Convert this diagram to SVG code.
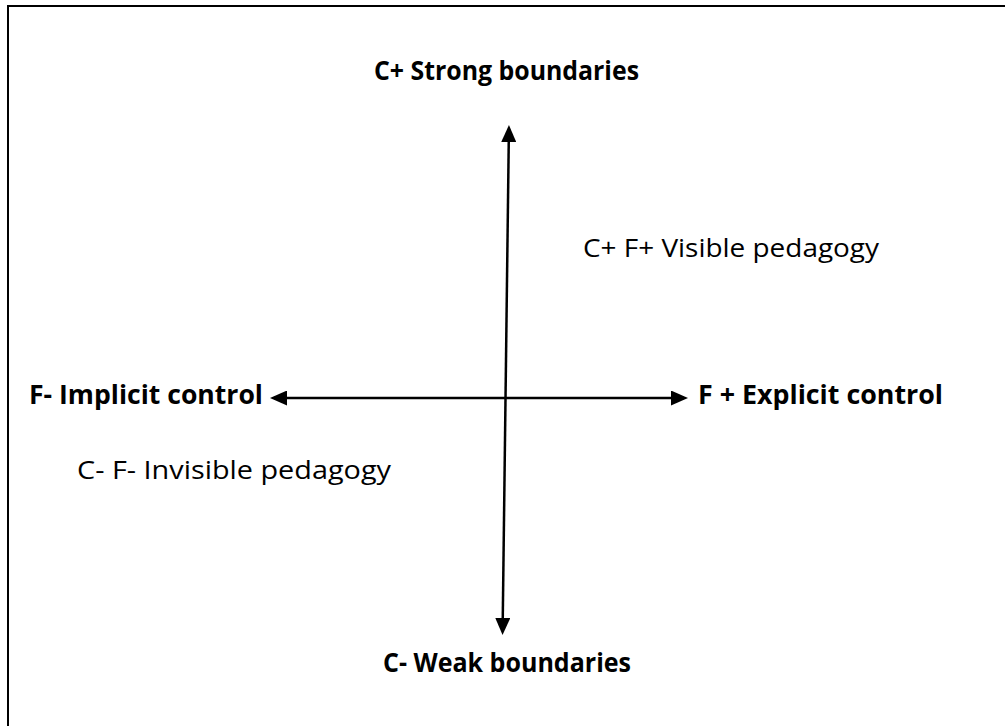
<svg xmlns="http://www.w3.org/2000/svg" width="1005" height="726" viewBox="0 0 1005 726">
  <style>
    .lbl-b { font-family: "Open Sans", "Liberation Sans", sans-serif; font-weight: bold; font-size: 27px; fill: #000; }
    .lbl { font-family: "Open Sans", "Liberation Sans", sans-serif; font-size: 25px; fill: #000; }
    .axis { stroke: #000; stroke-width: 2.5; fill: none; }
  </style>
  <defs>
    <marker id="head" markerUnits="userSpaceOnUse" markerWidth="18" markerHeight="15" refX="13" refY="7.5" orient="auto-start-reverse">
      <path d="M0,0 L17,7.5 L0,15 z" fill="#000"/>
    </marker>
  </defs>

  <rect width="1005" height="726" fill="#fff"/>
  <!-- frame -->
  <rect x="8" y="6" width="1010" height="740" fill="none" stroke="#000" stroke-width="2"/>

  <!-- axes -->
  <g id="connectors">
    <line class="axis" x1="508.9" y1="129" x2="502.6" y2="631" marker-start="url(#head)" marker-end="url(#head)"/>
    <line class="axis" x1="274" y1="398" x2="684" y2="398" marker-start="url(#head)" marker-end="url(#head)"/>
  </g>

  <g id="top-label">
    <text class="lbl-b" x="374" y="80" textLength="265" lengthAdjust="spacingAndGlyphs">C+ Strong boundaries</text>
  </g>
  <g id="bottom-label">
    <text class="lbl-b" x="383" y="672" textLength="248" lengthAdjust="spacingAndGlyphs">C- Weak boundaries</text>
  </g>
  <g id="left-label">
    <text class="lbl-b" x="29" y="404" textLength="234" lengthAdjust="spacingAndGlyphs">F- Implicit control</text>
  </g>
  <g id="right-label">
    <text class="lbl-b" x="698" y="404" textLength="245" lengthAdjust="spacingAndGlyphs">F + Explicit control</text>
  </g>
  <g id="visible-quadrant">
    <text class="lbl" x="583" y="257" textLength="296" lengthAdjust="spacingAndGlyphs">C+ F+ Visible pedagogy</text>
  </g>
  <g id="invisible-quadrant">
    <text class="lbl" x="77" y="479" textLength="314" lengthAdjust="spacingAndGlyphs">C- F- Invisible pedagogy</text>
  </g>
</svg>
